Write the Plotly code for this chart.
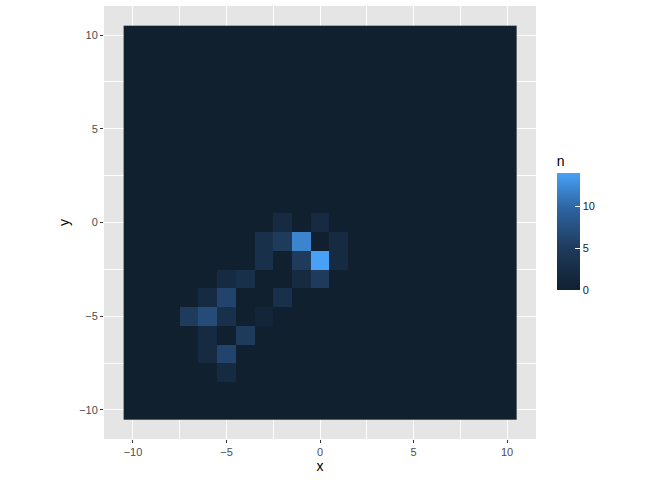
import numpy as np
import plotly.graph_objects as go

# bin centres and counts (only non-empty bins; the rest of the 21x21 grid is 0)
bin_x = [-2, 0,
         -3, -2, -1, 1,
         -3, -1, 0, 1,
         -5, -4, -1, 0,
         -6, -5, -2,
         -7, -6, -5, -3,
         -6, -4,
         -6, -5,
         -5]
bin_y = [0, 0,
         -1, -1, -1, -1,
         -2, -2, -2, -2,
         -3, -3, -3, -3,
         -4, -4, -4,
         -5, -5, -5, -5,
         -6, -6,
         -7, -7,
         -8]
bin_n = [2, 2,
         3, 5, 12, 2,
         3, 5, 14, 2,
         2, 3, 2, 5,
         2, 6, 3,
         5, 7, 3, 1,
         2, 5,
         2, 6,
         2]

grid = list(range(-10, 11))
tick_vals = [-10, -5, 0, 5, 10]
cbar_ticks = [0, 5, 10]

z = np.zeros((len(grid), len(grid)))
for bx, by, bn in zip(bin_x, bin_y, bin_n):
    z[grid.index(by), grid.index(bx)] = bn

fig = go.Figure(go.Heatmap(
    x=grid, y=grid, z=z,
    zmin=0, zmax=14,
    colorscale=[[0, '#10202F'], [0.35, '#1E3A5B'], [0.7, '#2E64A2'], [1, '#48A1F6']],
    colorbar=dict(
        title=dict(text='n', side='top', font=dict(size=14, color='black')),
        thickness=23, len=138, lenmode='pixels',
        x=1.048, xanchor='left', y=0.344, yanchor='bottom',
        xpad=0, ypad=0, outlinewidth=0,
        tickvals=cbar_ticks, ticks='inside', ticklen=5, tickcolor='white',
        tickfont=dict(size=11, color='#1A1A1A'),
    ),
    hoverinfo='skip',
))

axis_style = dict(
    range=[-11.55, 11.55],
    tickvals=tick_vals,
    showgrid=True, gridcolor='white', gridwidth=1.1,
    minor=dict(dtick=2.5, tick0=-7.5, showgrid=True, gridcolor='white', gridwidth=0.5),
    zeroline=False,
    ticks='outside', ticklen=3, tickcolor='#333333',
    tickfont=dict(size=11, color='#4D4D4D'),
    title_font=dict(size=14, color='black'),
    showline=False,
    automargin=False,
)

fig.update_xaxes(title_text='x', title_standoff=2, **axis_style)
fig.update_yaxes(title_text='y', title_standoff=6, **axis_style)

fig.update_layout(
    width=672, height=480,
    margin=dict(l=104, r=136, t=6, b=41),
    paper_bgcolor='white', plot_bgcolor='#E5E5E5',
    font=dict(family='Liberation Sans, Arial, sans-serif'),
)

# drop the browser's default 8px body margin so the figure sits at the page corner
fig.write_html("out.html", config={"displayModeBar": False},
               post_script="document.body.style.margin='0';")
